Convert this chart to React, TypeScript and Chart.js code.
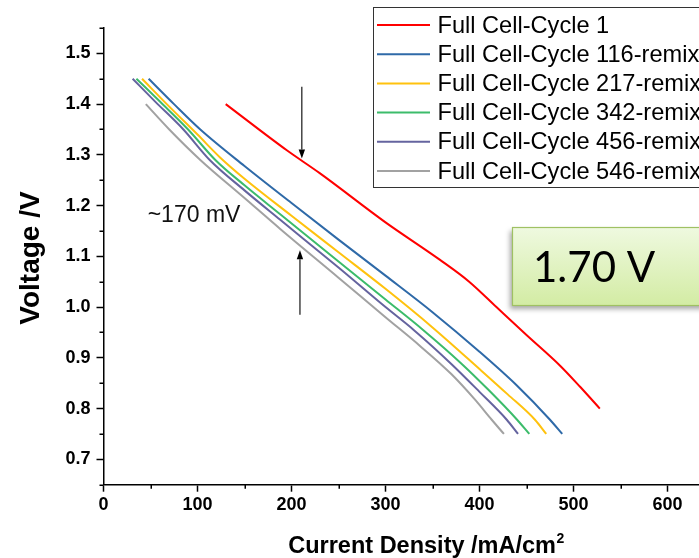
import React, { useEffect, useRef } from 'react';
import { Chart, registerables } from 'chart.js';

Chart.register(...registerables);

// ---- data ----
const seriesLabels = [
  'Full Cell-Cycle 1',
  'Full Cell-Cycle 116-remix',
  'Full Cell-Cycle 217-remix',
  'Full Cell-Cycle 342-remix',
  'Full Cell-Cycle 456-remix',
  'Full Cell-Cycle 546-remix',
];
const seriesColors = ['#ff0000', '#2f6aa8', '#ffc20e', '#3cbc6b', '#65649f', '#a2a2a2'];

const cycle1X = [130, 195, 230, 300, 358, 389, 418, 450, 486, 507, 528];
const cycle1Y = [1.40, 1.309, 1.264, 1.167, 1.093, 1.05, 1.0, 0.945, 0.884, 0.843, 0.80];

const cycle116X = [48, 75, 103, 150, 200, 250, 300, 350, 400, 440, 475, 488];
const cycle116Y = [1.45, 1.40, 1.35, 1.278, 1.205, 1.133, 1.062, 0.99, 0.912, 0.845, 0.778, 0.75];

const cycle217X = [41, 70, 100, 124, 150, 200, 250, 300, 350, 400, 430, 459, 471];
const cycle217Y = [1.45, 1.395, 1.34, 1.295, 1.253, 1.18, 1.108, 1.036, 0.96, 0.878, 0.828, 0.778, 0.75];

const cycle342X = [35, 60, 90, 119, 150, 188, 250, 300, 340, 380, 410, 440, 453];
const cycle342Y = [1.45, 1.405, 1.35, 1.29, 1.24, 1.183, 1.09, 1.015, 0.955, 0.89, 0.836, 0.778, 0.75];

const cycle456X = [31, 55, 85, 113, 150, 188, 250, 300, 330, 370, 400, 429, 441];
const cycle456Y = [1.45, 1.405, 1.35, 1.29, 1.23, 1.172, 1.078, 1.0, 0.955, 0.888, 0.833, 0.778, 0.75];

const cycle546X = [45, 70, 103, 150, 188, 250, 300, 337, 370, 395, 413, 426];
const cycle546Y = [1.40, 1.35, 1.29, 1.215, 1.154, 1.058, 0.98, 0.923, 0.868, 0.818, 0.778, 0.75];

const xTickValues = [0, 100, 200, 300, 400, 500, 600, 700];
const xMinorValues = [50, 150, 250, 350, 450, 550, 650];
const yTickValues = [0.7, 0.8, 0.9, 1.0, 1.1, 1.2, 1.3, 1.4, 1.5];
const yMinorValues = [0.65, 0.75, 0.85, 0.95, 1.05, 1.15, 1.25, 1.35, 1.45, 1.55];

// annotation anchors in data units
const downArrow = { x: 211, yTop: 1.434, yTip: 1.293 };
const upArrow = { x: 209, yBottom: 0.985, yTip: 1.112 };
const gapLabel = { text: '~170 mV', x: 47, y: 1.181 };
const boxLabel = '1.70 V';

const allX = [cycle1X, cycle116X, cycle217X, cycle342X, cycle456X, cycle546X];
const allY = [cycle1Y, cycle116Y, cycle217Y, cycle342Y, cycle456Y, cycle546Y];

const FONT = "'Liberation Sans', Arial, sans-serif";

function arrow(ctx: CanvasRenderingContext2D, x: number, y0: number, y1: number) {
  const dir = y1 > y0 ? 1 : -1;
  const headLen = 9;
  const headW = 3.2;
  ctx.beginPath();
  ctx.moveTo(x, y0);
  ctx.lineTo(x, y1 - dir * headLen);
  ctx.stroke();
  ctx.beginPath();
  ctx.moveTo(x, y1);
  ctx.lineTo(x - headW, y1 - dir * headLen);
  ctx.lineTo(x + headW, y1 - dir * headLen);
  ctx.closePath();
  ctx.fill();
}

const overlayPlugin = {
  id: 'overlay',
  afterDraw(chart: any) {
    const ctx: CanvasRenderingContext2D = chart.ctx;
    const xs = chart.scales.x;
    const ys = chart.scales.y;
    const ca = chart.chartArea;
    ctx.save();

    // minor ticks
    ctx.strokeStyle = '#000';
    ctx.lineWidth = 1.5;
    ctx.beginPath();
    for (const v of yMinorValues) {
      const py = Math.round(ys.getPixelForValue(v)) + 0.25;
      ctx.moveTo(ca.left - 4, py);
      ctx.lineTo(ca.left, py);
    }
    for (const v of xMinorValues) {
      const px = Math.round(xs.getPixelForValue(v)) + 0.25;
      ctx.moveTo(px, ca.bottom);
      ctx.lineTo(px, ca.bottom + 4);
    }
    ctx.stroke();

    // axis titles
    ctx.fillStyle = '#000';
    ctx.font = `bold 28px ${FONT}`;
    ctx.textAlign = 'center';
    ctx.textBaseline = 'middle';
    ctx.save();
    ctx.translate(31, 258);
    ctx.rotate(-Math.PI / 2);
    ctx.fillText('Voltage /V', 0, 0);
    ctx.restore();

    const xTitle = 'Current Density /mA/cm';
    ctx.font = `bold 23.5px ${FONT}`;
    const w1 = ctx.measureText(xTitle).width;
    ctx.font = `bold 14px ${FONT}`;
    const w2 = ctx.measureText('2').width;
    const cx = 426;
    const startX = cx - (w1 + w2) / 2;
    ctx.textAlign = 'left';
    ctx.textBaseline = 'alphabetic';
    ctx.font = `bold 23.5px ${FONT}`;
    ctx.fillText(xTitle, startX, 553);
    ctx.font = `bold 14px ${FONT}`;
    ctx.fillText('2', startX + w1 + 0.5, 543);

    // arrows
    ctx.strokeStyle = '#000';
    ctx.fillStyle = '#000';
    ctx.lineWidth = 1.1;
    arrow(ctx, xs.getPixelForValue(downArrow.x), ys.getPixelForValue(downArrow.yTop), ys.getPixelForValue(downArrow.yTip));
    arrow(ctx, xs.getPixelForValue(upArrow.x), ys.getPixelForValue(upArrow.yBottom), ys.getPixelForValue(upArrow.yTip));

    // ~170 mV
    ctx.font = `23px ${FONT}`;
    ctx.fillStyle = '#111';
    ctx.textAlign = 'left';
    ctx.textBaseline = 'middle';
    ctx.fillText(gapLabel.text, xs.getPixelForValue(gapLabel.x), ys.getPixelForValue(gapLabel.y));

    // 1.70 V box
    const bx = 512, by = 227, bw = 230, bh = 78;
    ctx.save();
    ctx.shadowColor = 'rgba(0,0,0,0.35)';
    ctx.shadowBlur = 5;
    ctx.shadowOffsetX = -2;
    ctx.shadowOffsetY = 4;
    const grad = ctx.createLinearGradient(0, by, 0, by + bh);
    grad.addColorStop(0, '#eff9e0');
    grad.addColorStop(1, '#d3eca4');
    ctx.fillStyle = grad;
    ctx.fillRect(bx, by, bw, bh);
    ctx.restore();
    ctx.strokeStyle = '#9fc163';
    ctx.lineWidth = 1.2;
    ctx.strokeRect(bx + 0.5, by + 0.5, bw, bh);
    ctx.fillStyle = '#000';
    ctx.font = `42px Lato, 'Open Sans', sans-serif`;
    ctx.textAlign = 'left';
    ctx.textBaseline = 'alphabetic';
    ctx.fillText(boxLabel, 533, 282);

    // legend
    const lx = 373.5, ly = 7.5, lw = 400, lh = 180;
    ctx.fillStyle = '#fff';
    ctx.fillRect(lx, ly, lw, lh);
    ctx.strokeStyle = '#333';
    ctx.lineWidth = 1;
    ctx.strokeRect(lx, ly, lw, lh);
    ctx.font = `23.6px ${FONT}`;
    ctx.textBaseline = 'middle';
    ctx.textAlign = 'left';
    chart.data.datasets.forEach((ds: any, i: number) => {
      const ry = 25 + i * 29.2;
      ctx.strokeStyle = ds.borderColor;
      ctx.lineWidth = 2;
      ctx.beginPath();
      ctx.moveTo(377, ry);
      ctx.lineTo(430, ry);
      ctx.stroke();
      ctx.fillStyle = '#000';
      ctx.fillText(ds.label, 437.5, ry + 1);
    });

    ctx.restore();
  },
};

export default function App() {
  const ref = useRef<HTMLCanvasElement | null>(null);
  useEffect(() => {
    if (!ref.current) return;
    const datasets = seriesLabels.map((label, i) => ({
      label,
      data: allX[i].map((x, j) => ({ x, y: allY[i][j] })),
      borderColor: seriesColors[i],
      backgroundColor: seriesColors[i],
      borderWidth: 2,
      pointRadius: 0,
      showLine: true,
      cubicInterpolationMode: 'monotone' as const,
      fill: false,
    }));
    const chart = new Chart(ref.current, {
      type: 'scatter',
      data: { datasets },
      options: {
        responsive: false,
        animation: false,
        devicePixelRatio: 1,
        layout: { padding: { left: 0, top: 28, right: 38.5, bottom: 0 } },
        plugins: { legend: { display: false }, tooltip: { enabled: false } },
        scales: {
          x: {
            type: 'linear',
            min: 0,
            max: 700,
            afterFit: (s: any) => { s.height = 73.3; },
            afterBuildTicks: (s: any) => { s.ticks = xTickValues.map((v) => ({ value: v })); },
            ticks: {
              callback: (v: any) => String(v),
              color: '#000',
              font: { family: FONT, size: 18, weight: 'bold' },
              padding: 3,
              maxRotation: 0,
              autoSkip: false,
            },
            grid: { display: true, drawOnChartArea: false, drawTicks: true, tickLength: 7, tickWidth: 1.5, tickColor: '#000' },
            border: { display: true, color: '#000', width: 1.5 },
          },
          y: {
            type: 'linear',
            min: 0.65,
            max: 1.55,
            afterFit: (s: any) => { s.width = 103.5; },
            afterBuildTicks: (s: any) => { s.ticks = yTickValues.map((v) => ({ value: v })); },
            ticks: {
              callback: (v: any) => Number(v).toFixed(1),
              color: '#000',
              font: { family: FONT, size: 18, weight: 'bold' },
              padding: 6,
              autoSkip: false,
            },
            grid: { display: true, drawOnChartArea: false, drawTicks: true, tickLength: 7, tickWidth: 1.5, tickColor: '#000' },
            border: { display: true, color: '#000', width: 1.5 },
          },
        },
      },
      plugins: [overlayPlugin],
    });
    return () => chart.destroy();
  }, []);

  return (
    <div style={{ position: 'fixed', left: 0, top: 0, width: 699, height: 558, overflow: 'hidden', background: '#fff' }}>
      <canvas ref={ref} width={800} height={558} style={{ width: 800, height: 558, display: 'block' }} />
    </div>
  );
}
